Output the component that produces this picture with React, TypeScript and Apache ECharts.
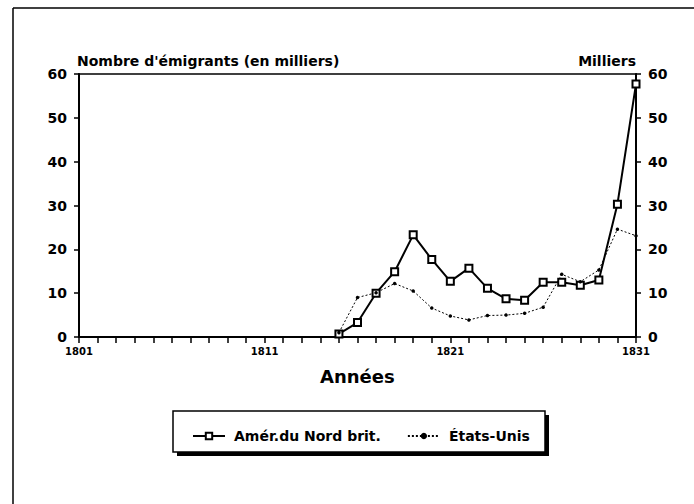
import React, { useEffect, useRef } from "react";
import * as echarts from "echarts";

const years: string[] = [];
for (let y = 1801; y <= 1831; y++) years.push(String(y));

const seriesNames = ["Amér.du Nord brit.", "États-Unis"];
// values from 1815 to 1831 (thousands)
const bnaValues = [0.7, 3.3, 10.0, 14.9, 23.3, 17.7, 12.7, 15.7, 11.1, 8.7, 8.4, 12.5, 12.5, 11.8, 13.0, 30.3, 57.7];
const usValues = [1.0, 9.0, 10.1, 12.2, 10.5, 6.6, 4.8, 3.9, 4.9, 5.0, 5.4, 6.8, 14.3, 12.6, 15.3, 24.6, 23.1];
const startYear = 1815;

const yTicks = { min: 0, max: 60, interval: 10 };
const leftTitle = "Nombre d'émigrants (en milliers)";
const rightTitle = "Milliers";
const xTitle = "Années";

function pad(values: number[]): (number | null)[] {
  const lead = startYear - 1801;
  const arr: (number | null)[] = [];
  for (let i = 0; i < lead; i++) arr.push(null);
  return arr.concat(values);
}

const FONT = "'DejaVu Sans', 'Liberation Sans', Arial, sans-serif";

export default function App() {
  const ref = useRef<HTMLDivElement>(null);
  useEffect(() => {
    if (!ref.current) return;
    const chart = echarts.init(ref.current, undefined, { renderer: "svg" });
    const axisCommon = {
      type: "value" as const,
      min: yTicks.min,
      max: yTicks.max,
      interval: yTicks.interval,
      axisLine: { show: true, lineStyle: { color: "#000", width: 2 } },
      axisTick: { show: true, length: 5, lineStyle: { color: "#000", width: 1.5 } },
      splitLine: { show: false },
      axisLabel: { color: "#000", fontSize: 14, fontWeight: "bold" as const, fontFamily: FONT, margin: 12 },
    };
    chart.setOption({
      animation: false,
      backgroundColor: "#fff",
      grid: {
        left: 79,
        right: 58,
        top: 74,
        bottom: 167,
        show: true,
        borderColor: "#000",
        borderWidth: 1.5,
        containLabel: false,
      },
      xAxis: {
        type: "category",
        data: years,
        boundaryGap: false,
        axisLine: { show: true, lineStyle: { color: "#000", width: 2 } },
        axisTick: { show: true, interval: 0, length: 6, lineStyle: { color: "#000", width: 1.5 } },
        axisLabel: { interval: 9, color: "#000", fontSize: 10, fontWeight: "bold", fontFamily: FONT, margin: 9 },
        splitLine: { show: false },
      },
      yAxis: [
        { ...axisCommon, position: "left" },
        { ...axisCommon, position: "right" },
      ],
      legend: {
        left: 187,
        top: 424,
        itemWidth: 32,
        itemHeight: 8,
        itemGap: 26,
        textStyle: { color: "#000", fontSize: 14, fontWeight: "bold", fontFamily: FONT, padding: [0, 0, 0, 4] },
        data: seriesNames,
      },
      graphic: [
        { type: "line", shape: { x1: 13, y1: 8, x2: 694, y2: 8 }, style: { stroke: "#000", lineWidth: 1.5 } },
        { type: "line", shape: { x1: 13, y1: 8, x2: 13, y2: 504 }, style: { stroke: "#000", lineWidth: 1.5 } },
        { type: "rect", shape: { x: 177, y: 415, width: 372, height: 41 }, style: { fill: "#000" }, z: 0 },
        { type: "rect", shape: { x: 173, y: 411, width: 372, height: 41 }, style: { fill: "#fff", stroke: "#000", lineWidth: 1.5 }, z: 1 },
        { type: "text", left: 77, top: 54, style: { text: leftTitle, fill: "#000", font: `bold 14px ${FONT}` } },
        { type: "text", right: 58, top: 54, style: { text: rightTitle, fill: "#000", font: `bold 14px ${FONT}` } },
        { type: "text", left: 320, top: 367, style: { text: xTitle, fill: "#000", font: `bold 18px ${FONT}` } },
      ],
      series: [
        {
          name: seriesNames[0],
          type: "line",
          data: pad(bnaValues),
          yAxisIndex: 0,
          symbol: "emptyRect",
          symbolSize: 7,
          showAllSymbol: true,
          lineStyle: { color: "#000", width: 2 },
          itemStyle: { color: "#000", borderColor: "#000", borderWidth: 1.5 },
          connectNulls: false,
        },
        {
          name: seriesNames[1],
          type: "line",
          data: pad(usValues),
          yAxisIndex: 0,
          symbol: "circle",
          symbolSize: 3.5,
          showAllSymbol: true,
          lineStyle: { color: "#000", width: 1, type: [2, 2] },
          itemStyle: { color: "#000" },
          connectNulls: false,
        },
      ],
    });
    return () => chart.dispose();
  }, []);
  return <div ref={ref} style={{ position: "fixed", left: 0, top: 0, width: 694, height: 504 }} />;
}
